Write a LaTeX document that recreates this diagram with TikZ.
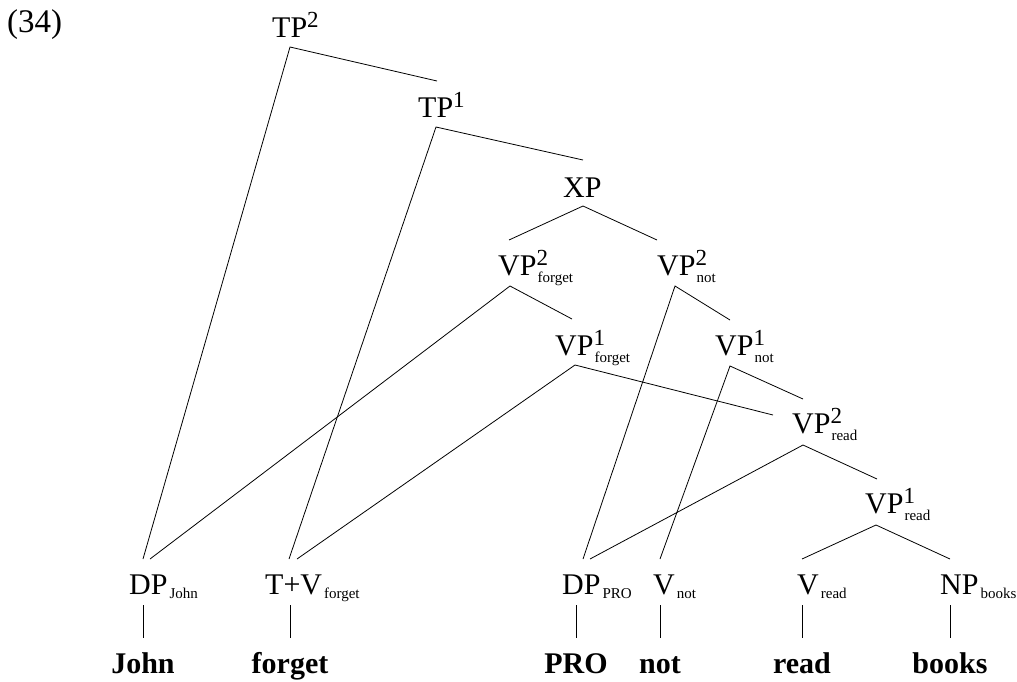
\documentclass[tikz,border=0pt]{standalone}
\usepackage{fontspec}
\setmainfont{Liberation Serif}
\newcommand\mainsz{\fontsize{30}{32}\selectfont}
\newcommand\numsz{\fontsize{33}{35}\selectfont}
\newcommand\supsz{\fontsize{23}{24}\selectfont}
\newcommand\subsz{\fontsize{15}{16}\selectfont}
\newcommand\wordsz{\fontsize{30}{32}\selectfont\bfseries}
% category with superscript and subscript
\newcommand\catss[3]{#1\rlap{\raisebox{10pt}{\supsz #2}}\raisebox{-7pt}{\subsz\kern1pt #3}}
% category with superscript only
\newcommand\catsup[2]{#1\raisebox{10pt}{\supsz #2}}
% category with subscript only
\newcommand\catsub[2]{#1\raisebox{-4pt}{\subsz\kern2pt #2}}
\begin{document}
\begin{tikzpicture}[x=1pt,y=-1pt,
  lab/.style={anchor=base west,inner sep=0pt,font=\mainsz},
  word/.style={anchor=base,inner sep=0pt,font=\wordsz},
  edge/.style={line width=0.8pt,black}]
\useasboundingbox (0,0) rectangle (1017,681);
% example number
\node[anchor=base west,inner sep=0pt,font=\numsz] (num) at (7,32) {(34)};
% labels
\node[lab] (TP2) at (272,37) {\catsup{TP}{2}};
\node[lab] (TP1) at (418,117) {\catsup{TP}{1}};
\node[lab] (XP) at (563,197) {XP};
\node[lab] (VP2f) at (498,275) {\catss{VP}{2}{forget}};
\node[lab] (VP2n) at (657,275) {\catss{VP}{2}{not}};
\node[lab] (VP1f) at (555,355) {\catss{VP}{1}{forget}};
\node[lab] (VP1n) at (715,355) {\catss{VP}{1}{not}};
\node[lab] (VP2r) at (792,433) {\catss{VP}{2}{read}};
\node[lab] (VP1r) at (865,513) {\catss{VP}{1}{read}};
\node[lab] (DPj) at (129,594) {\catsub{DP}{John}};
\node[lab] (TV) at (265,594) {\catsub{T+V}{forget}};
\node[lab] (DPp) at (562,594) {\catsub{DP}{PRO}};
\node[lab] (Vn) at (653,594) {\catsub{V}{not}};
\node[lab] (Vr) at (797,594) {\catsub{V}{read}};
\node[lab] (NPb) at (940,594) {\catsub{NP}{books}};
% words
\node[word] (wJohn) at (143,673) {John};
\node[word] (wforget) at (290,673) {forget};
\node[word] (wPRO) at (576,673) {PRO};
\node[word] (wnot) at (660,673) {not};
\node[word] (wread) at (802,673) {read};
\node[word] (wbooks) at (950,673) {books};
% attachment points
\coordinate (TP2b) at (290,47);
\coordinate (TP1t) at (437,81);
\coordinate (TP1b) at (436,127);
\coordinate (XPt) at (583,160);
\coordinate (XPb) at (583,206);
\coordinate (VP2ft) at (509,240);
\coordinate (VP2fb) at (510,286);
\coordinate (VP2nt) at (657,240);
\coordinate (VP2nb) at (675,286);
\coordinate (VP1ft) at (572,319);
\coordinate (VP1fb) at (575,365);
\coordinate (VP1nt) at (730,320);
\coordinate (VP1nb) at (730,366);
\coordinate (VP2rl) at (773,415);
\coordinate (VP2rt) at (803,399);
\coordinate (VP2rb) at (803,445);
\coordinate (VP1rt) at (877,479);
\coordinate (VP1rb) at (876,525);
\coordinate (DPjt1) at (143,559);
\coordinate (DPjt2) at (150,559);
\coordinate (TVt1) at (289,559);
\coordinate (TVt2) at (297,559);
\coordinate (DPpt1) at (583,559);
\coordinate (DPpt2) at (590,559);
\coordinate (Vnt) at (660,559);
\coordinate (Vrt) at (802,559);
\coordinate (NPbt) at (950,559);
\coordinate (DPjb) at (143,605);
\coordinate (TVb) at (290,605);
\coordinate (DPpb) at (576,605);
\coordinate (Vnb) at (660,605);
\coordinate (Vrb) at (802,605);
\coordinate (NPbb) at (950,605);
\coordinate (wJohnt) at (143,638);
\coordinate (wforgett) at (290,638);
\coordinate (wPROt) at (576,638);
\coordinate (wnott) at (660,638);
\coordinate (wreadt) at (802,638);
\coordinate (wbookst) at (950,638);
% branches
\draw[edge] (DPjt1) -- (TP2b) -- (TP1t);
\draw[edge] (TVt1) -- (TP1b) -- (XPt);
\draw[edge] (VP2ft) -- (XPb) -- (VP2nt);
\draw[edge] (DPjt2) -- (VP2fb) -- (VP1ft);
\draw[edge] (DPpt1) -- (VP2nb) -- (VP1nt);
\draw[edge] (TVt2) -- (VP1fb) -- (VP2rl);
\draw[edge] (Vnt) -- (VP1nb) -- (VP2rt);
\draw[edge] (DPpt2) -- (VP2rb) -- (VP1rt);
\draw[edge] (Vrt) -- (VP1rb) -- (NPbt);
% lexical lines
\draw[edge] (DPjb) -- (wJohnt);
\draw[edge] (TVb) -- (wforgett);
\draw[edge] (DPpb) -- (wPROt);
\draw[edge] (Vnb) -- (wnott);
\draw[edge] (Vrb) -- (wreadt);
\draw[edge] (NPbb) -- (wbookst);
\end{tikzpicture}
\end{document}
